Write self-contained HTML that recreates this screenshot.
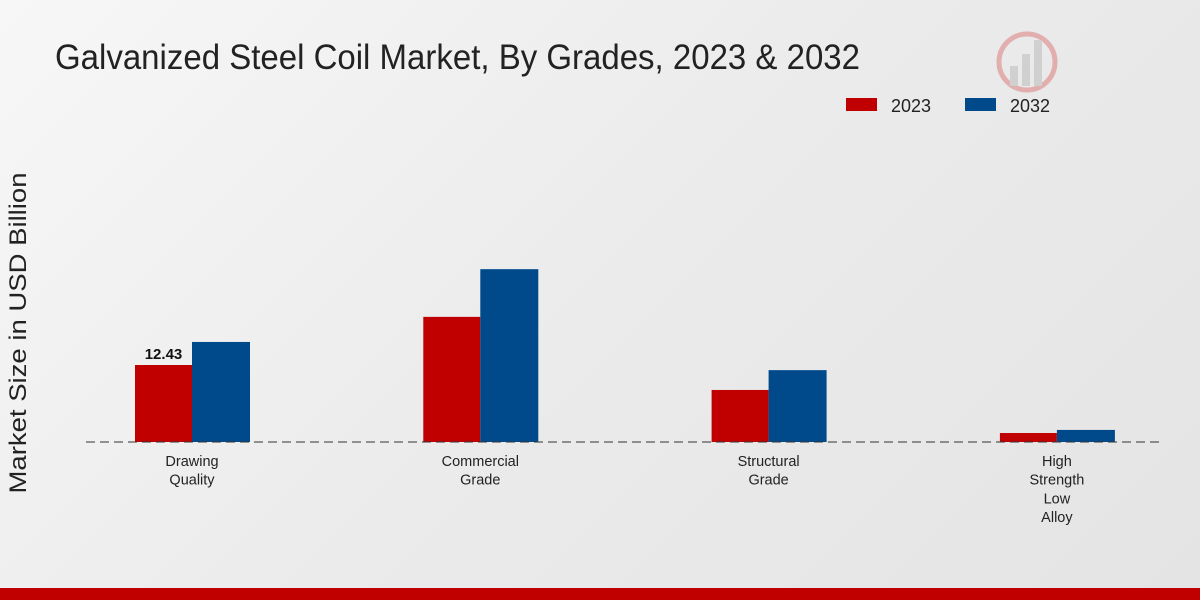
<!DOCTYPE html>
<html><head><meta charset="utf-8">
<style>
html,body{margin:0;padding:0;width:1200px;height:600px;overflow:hidden;}
body{background:linear-gradient(135deg,#f7f7f7 0%,#ebebeb 50%,#e4e4e4 100%);font-family:"Liberation Sans",sans-serif;}
</style></head>
<body>
<svg id="chart" width="1200" height="600" xmlns="http://www.w3.org/2000/svg">
<text x="55" y="69" font-size="35" fill="#222" textLength="805" lengthAdjust="spacingAndGlyphs" font-family="Liberation Sans, sans-serif">Galvanized Steel Coil Market, By Grades, 2023 &amp; 2032</text>
<g opacity="0.25">
<circle cx="1027" cy="62" r="28" fill="none" stroke="#c00" stroke-width="5"/>
<rect x="1010" y="66" width="8" height="20" fill="#888"/>
<rect x="1022" y="54" width="8" height="32" fill="#888"/>
<rect x="1034" y="40" width="8" height="46" fill="#888"/>
</g>
<g>
<rect x="846" y="98" width="31" height="13" fill="#c00000"/>
<text x="891" y="112" font-size="18" fill="#222" textLength="40" lengthAdjust="spacingAndGlyphs">2023</text>
<rect x="965" y="98" width="31" height="13" fill="#004a8c"/>
<text x="1010" y="112" font-size="18" fill="#222" textLength="40" lengthAdjust="spacingAndGlyphs">2032</text>
</g>
<text transform="translate(26,333) rotate(-90)" text-anchor="middle" font-size="24" fill="#222" textLength="321" lengthAdjust="spacingAndGlyphs" font-family="Liberation Sans, sans-serif">Market Size in USD Billion</text>
<g id="bars"></g>
<line x1="86" y1="442" x2="1162" y2="442" stroke="#333" stroke-width="1" stroke-dasharray="9,5"/>
<g id="labels"></g>
<rect x="0" y="588" width="1200" height="12" fill="#c00000"/>
</svg>
<script>
const categories = [["Drawing","Quality"],["Commercial","Grade"],["Structural","Grade"],["High","Strength","Low","Alloy"]];
const values2023 = [12.43, 20.2, 8.4, 1.45];
const values2032 = [16.15, 27.9, 11.6, 1.95];
const printedLabels = ["12.43", null, null, null];
const NS="http://www.w3.org/2000/svg";
const baseY=442, pxPerUnit=77/12.43;
function y(v){return baseY - v*pxPerUnit;}
function cx(i){return 192 + i*288.3;}
const bw=57;
const bars=document.getElementById('bars'), labels=document.getElementById('labels');
categories.forEach((cat,i)=>{
  const c=cx(i);
  const r1=document.createElementNS(NS,'rect');
  r1.setAttribute('x',c-bw);r1.setAttribute('y',y(values2023[i]));r1.setAttribute('width',bw);r1.setAttribute('height',baseY-y(values2023[i]));r1.setAttribute('fill','#c00000');
  
  
  bars.appendChild(r1);
  const r2=document.createElementNS(NS,'rect');
  r2.setAttribute('x',c);r2.setAttribute('y',y(values2032[i]));r2.setAttribute('width',bw+1);r2.setAttribute('height',baseY-y(values2032[i]));r2.setAttribute('fill','#004a8c');
  
  
  bars.appendChild(r2);
  if(printedLabels[i]){
    const t=document.createElementNS(NS,'text');
    t.setAttribute('x',c-bw/2);t.setAttribute('y',y(values2023[i])-6);t.setAttribute('text-anchor','middle');t.setAttribute('font-size','15');t.setAttribute('font-weight','bold');t.setAttribute('fill','#111');
    t.textContent=printedLabels[i];
    
    
    bars.appendChild(t);
  }
  const t=document.createElementNS(NS,'text');
  t.setAttribute('text-anchor','middle');t.setAttribute('font-size','14.5');t.setAttribute('fill','#222');
  cat.forEach((line,k)=>{
    const s=document.createElementNS(NS,'tspan');
    s.setAttribute('x',c);s.setAttribute('y',466+k*18.7);s.textContent=line;t.appendChild(s);
  });
  
  
  labels.appendChild(t);
});
</script>
</body></html>
